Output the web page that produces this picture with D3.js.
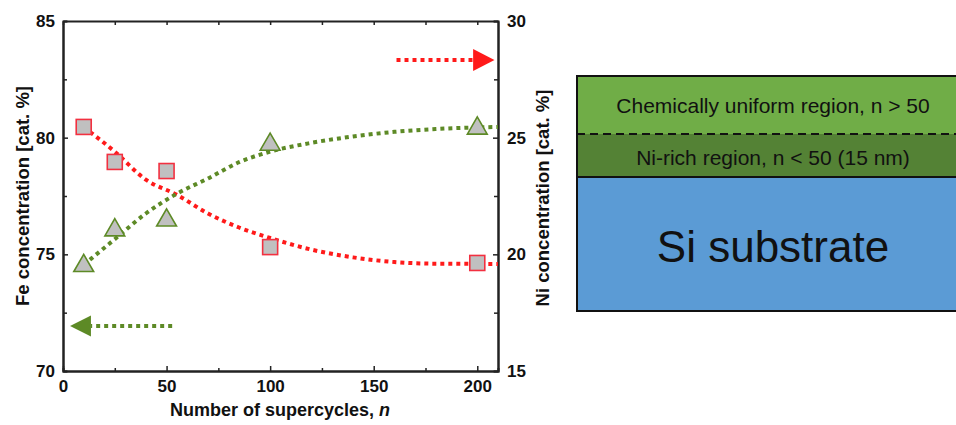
<!DOCTYPE html>
<html lang="en">
<head>
    <meta charset="UTF-8">
    <title>Fe / Ni concentration vs supercycles</title>
    <script src="https://d3js.org/d3.v7.min.js"></script>
    <style>
        body { margin: 0; background: #fff; }
        svg { display: block; }
        text { font-family: "Liberation Sans", Arial, sans-serif; }
    </style>
</head>
<body>
    <svg width="956" height="425"></svg>

    <script>
    // measured points
    const cycles = [10, 25, 50, 100, 200];
    const feConc = [80.46, 78.96, 78.57, 75.31, 74.63];
    const niConc = [19.55, 21.08, 21.5, 24.75, 25.44];

    // fitted guide curves
    const fitN  = [10, 25, 40, 55, 70, 85, 100, 120, 140, 160, 180, 210];
    const fitFe = [80.45, 79.4, 78.2, 77.55, 76.75, 76.15, 75.7, 75.2, 74.87, 74.67, 74.6, 74.59];
    const fitNi = [19.55, 20.65, 21.75, 22.6, 23.25, 23.95, 24.4, 24.78, 25.05, 25.25, 25.37, 25.46];

    const xTicks = [0, 50, 100, 150, 200];
    const xMinor = [25, 75, 125, 175];
    const feTicks = [70, 75, 80, 85];
    const feMinor = [72.5, 77.5, 82.5];
    const niTicks = [15, 20, 25, 30];
    const niMinor = [17.5, 22.5, 27.5];

    // layer stack on the right
    const layers = ["Chemically uniform region, n > 50", "Ni-rich region, n < 50 (15 nm)", "Si substrate"];
    const layerColors = ["#70ad47", "#548235", "#5b9bd5"];

    const red = "#ff1a1a";
    const green = "#5d8a26";

    const svg = d3.select("svg");
    const x = d3.scaleLinear().domain([0, 210]).range([63, 498]);
    const yFe = d3.scaleLinear().domain([70, 85]).range([371, 21]);
    const yNi = d3.scaleLinear().domain([15, 30]).range([371, 21]);

    // axes (ticks point inward)
    function styleAxis(g) {
        g.selectAll(".domain").attr("stroke", "#222").attr("stroke-width", 2);
        g.selectAll(".tick line").attr("stroke", "#222").attr("stroke-width", 1.5);
        g.selectAll(".tick text").attr("fill", "#111").attr("font-size", 17).attr("font-weight", "bold");
    }

    svg.append("g").attr("transform", "translate(0,371)")
        .call(d3.axisBottom(x).tickValues(xTicks).tickSizeInner(-5).tickSizeOuter(0).tickPadding(9))
        .call(styleAxis);
    svg.append("g").attr("transform", "translate(0,371)")
        .call(d3.axisBottom(x).tickValues(xMinor).tickSize(-3).tickFormat(""))
        .call(styleAxis);
    svg.append("g").attr("transform", "translate(0,21)")
        .call(d3.axisTop(x).tickValues(xTicks.concat(xMinor)).tickSizeInner(-4).tickSizeOuter(0).tickFormat(""))
        .call(styleAxis);

    svg.append("g").attr("transform", "translate(63,0)")
        .call(d3.axisLeft(yFe).tickValues(feTicks).tickSizeInner(-5).tickSizeOuter(0).tickPadding(8))
        .call(styleAxis);
    svg.append("g").attr("transform", "translate(63,0)")
        .call(d3.axisLeft(yFe).tickValues(feMinor).tickSize(-4).tickFormat(""))
        .call(styleAxis);

    svg.append("g").attr("transform", "translate(498,0)")
        .call(d3.axisRight(yNi).tickValues(niTicks).tickSizeInner(-5).tickSizeOuter(0).tickPadding(9))
        .call(styleAxis);
    svg.append("g").attr("transform", "translate(498,0)")
        .call(d3.axisRight(yNi).tickValues(niMinor).tickSize(-4).tickFormat(""))
        .call(styleAxis);

    // axis titles
    const xt = svg.append("text").attr("x", 280).attr("y", 416).attr("text-anchor", "middle")
        .attr("font-size", 18).attr("font-weight", "bold").attr("fill", "#111");
    xt.append("tspan").text("Number of supercycles, ");
    xt.append("tspan").attr("font-style", "italic").text("n");

    svg.append("text").attr("transform", "translate(29,196) rotate(-90)").attr("text-anchor", "middle")
        .attr("font-size", 18.5).attr("font-weight", "bold").attr("fill", "#111")
        .text("Fe concentration [cat. %]");
    svg.append("text").attr("transform", "translate(549,198) rotate(-90)").attr("text-anchor", "middle")
        .attr("font-size", 18.5).attr("font-weight", "bold").attr("fill", "#111")
        .text("Ni concentration [cat. %]");

    // fitted curves
    const feLine = d3.line().x((d, i) => x(fitN[i])).y(d => yFe(d)).curve(d3.curveMonotoneX);
    const niLine = d3.line().x((d, i) => x(fitN[i])).y(d => yNi(d)).curve(d3.curveMonotoneX);

    svg.append("path").attr("d", feLine(fitFe)).attr("fill", "none")
        .attr("stroke", red).attr("stroke-width", 4).attr("stroke-dasharray", "4 4");
    svg.append("path").attr("d", niLine(fitNi)).attr("fill", "none")
        .attr("stroke", green).attr("stroke-width", 4).attr("stroke-dasharray", "4 4");

    // markers
    svg.selectAll(".fe").data(cycles).enter().append("rect")
        .attr("x", d => x(d) - 7.5)
        .attr("y", (d, i) => yFe(feConc[i]) - 7.5)
        .attr("width", 15).attr("height", 15)
        .attr("fill", "#c0c0c0").attr("stroke", "#f23040").attr("stroke-width", 1.6);

    const tri = d3.symbol().type(d3.symbolTriangle).size(170);
    svg.selectAll(".ni").data(cycles).enter().append("path")
        .attr("d", tri)
        .attr("transform", (d, i) => `translate(${x(d)},${yNi(niConc[i]) + 1})`)
        .attr("fill", "#c0c0c0").attr("stroke", green).attr("stroke-width", 1.6);

    // axis arrows
    const rArrowY = yNi(28.33);
    svg.append("line").attr("x1", x(161)).attr("x2", x(198)).attr("y1", rArrowY).attr("y2", rArrowY)
        .attr("stroke", red).attr("stroke-width", 4).attr("stroke-dasharray", "4 4");
    svg.append("path")
        .attr("d", `M${x(198)},${rArrowY - 11}L${x(208.3)},${rArrowY}L${x(198)},${rArrowY + 11}Z`)
        .attr("fill", red);

    const gArrowY = yFe(71.93);
    svg.append("line").attr("x1", x(52.7)).attr("x2", x(13.5)).attr("y1", gArrowY).attr("y2", gArrowY)
        .attr("stroke", green).attr("stroke-width", 4).attr("stroke-dasharray", "4 4");
    svg.append("path")
        .attr("d", `M${x(13.5)},${gArrowY - 10.5}L${x(3.4)},${gArrowY}L${x(13.5)},${gArrowY + 10.5}Z`)
        .attr("fill", green);

    // layer stack diagram
    const stackY = [76, 134, 177, 311];
    const left = 577, right = 969, cx = (left + right) / 2;
    const stack = svg.append("g");
    layers.forEach((name, i) => {
        stack.append("rect").attr("x", left).attr("y", stackY[i])
            .attr("width", right - left).attr("height", stackY[i + 1] - stackY[i])
            .attr("fill", layerColors[i]);
    });
    stack.append("rect").attr("x", left).attr("y", stackY[0])
        .attr("width", right - left).attr("height", stackY[3] - stackY[0])
        .attr("fill", "none").attr("stroke", "#111").attr("stroke-width", 2);
    stack.append("line").attr("x1", left).attr("x2", right).attr("y1", stackY[1]).attr("y2", stackY[1])
        .attr("stroke", "#111").attr("stroke-width", 2).attr("stroke-dasharray", "8 5");
    stack.append("line").attr("x1", left).attr("x2", right).attr("y1", stackY[2]).attr("y2", stackY[2])
        .attr("stroke", "#111").attr("stroke-width", 2);

    const labelBase = [113, 165, 262];
    const labelSize = [21, 21, 44];
    layers.forEach((name, i) => {
        stack.append("text").attr("x", cx).attr("y", labelBase[i]).attr("text-anchor", "middle")
            .attr("font-size", labelSize[i]).attr("fill", "#111").text(name);
    });
    </script>
</body>
</html>
